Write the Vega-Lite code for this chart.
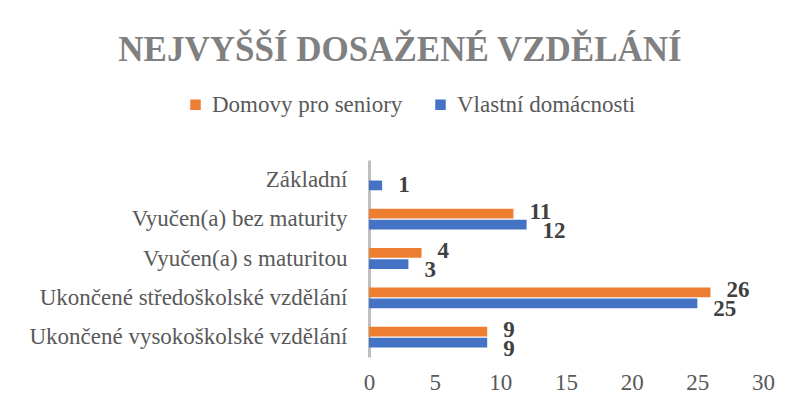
{
  "$schema": "https://vega.github.io/schema/vega-lite/v6.json",
  "width": 394,
  "height": 197,
  "autosize": {"type": "none"},
  "padding": {"left": 369, "top": 160, "right": 26, "bottom": 49},
  "background": "white",
  "title": {
    "text": "NEJVYŠŠÍ DOSAŽENÉ VZDĚLÁNÍ",
    "font": "Liberation Serif",
    "fontSize": 35,
    "fontWeight": "bold",
    "color": "#808080",
    "anchor": "middle",
    "dx": -166,
    "offset": 25
  },
  "config": {
    "view": {"stroke": null},
    "font": "Liberation Serif"
  },
  "data": {
    "values": [
      {"kategorie": "Základní", "skupina": "Vlastní domácnosti", "pocet": 1},
      {"kategorie": "Vyučen(a) bez maturity", "skupina": "Domovy pro seniory", "pocet": 11},
      {"kategorie": "Vyučen(a) bez maturity", "skupina": "Vlastní domácnosti", "pocet": 12},
      {"kategorie": "Vyučen(a) s maturitou", "skupina": "Domovy pro seniory", "pocet": 4},
      {"kategorie": "Vyučen(a) s maturitou", "skupina": "Vlastní domácnosti", "pocet": 3},
      {"kategorie": "Ukončené středoškolské vzdělání", "skupina": "Domovy pro seniory", "pocet": 26},
      {"kategorie": "Ukončené středoškolské vzdělání", "skupina": "Vlastní domácnosti", "pocet": 25},
      {"kategorie": "Ukončené vysokoškolské vzdělání", "skupina": "Domovy pro seniory", "pocet": 9},
      {"kategorie": "Ukončené vysokoškolské vzdělání", "skupina": "Vlastní domácnosti", "pocet": 9}
    ]
  },
  "encoding": {
    "y": {
      "field": "kategorie",
      "type": "nominal",
      "sort": ["Základní", "Vyučen(a) bez maturity", "Vyučen(a) s maturitou", "Ukončené středoškolské vzdělání", "Ukončené vysokoškolské vzdělání"],
      "scale": {"paddingInner": 0.47, "paddingOuter": 0.24},
      "axis": {
        "title": null,
        "ticks": false,
        "domainColor": "#bfbfbf",
        "domainWidth": 3,
        "labelFont": "Liberation Serif",
        "labelFontSize": 23,
        "labelColor": "#595959",
        "labelPadding": 22,
        "labelLimit": 400
      }
    },
    "yOffset": {
      "field": "skupina",
      "type": "nominal",
      "sort": ["Domovy pro seniory", "Vlastní domácnosti"],
      "scale": {"paddingInner": 0.12}
    },
    "x": {
      "field": "pocet",
      "type": "quantitative",
      "scale": {"domain": [0, 30]},
      "axis": {
        "title": null,
        "values": [0, 5, 10, 15, 20, 25, 30],
        "grid": false,
        "ticks": false,
        "domain": false,
        "labelFlush": false,
        "labelFont": "Liberation Serif",
        "labelFontSize": 23,
        "labelColor": "#595959",
        "labelPadding": 14
      }
    }
  },
  "layer": [
    {
      "mark": {"type": "bar"},
      "encoding": {
        "color": {
          "field": "skupina",
          "type": "nominal",
          "sort": ["Domovy pro seniory", "Vlastní domácnosti"],
          "scale": {"domain": ["Domovy pro seniory", "Vlastní domácnosti"], "range": ["#ED7D31", "#4472C4"]},
          "legend": {
            "title": null,
            "orient": "none",
            "legendX": -185,
            "legendY": -67,
            "direction": "horizontal",
            "symbolType": "square",
            "symbolSize": 110,
            "symbolStrokeWidth": 0,
            "labelFont": "Liberation Serif",
            "labelFontSize": 23,
            "labelColor": "#595959",
            "labelOffset": 5,
            "labelLimit": 400,
            "columnPadding": 26
          }
        }
      }
    },
    {
      "transform": [{"filter": "datum.skupina === 'Domovy pro seniory'"}],
      "mark": {"type": "text", "align": "left", "baseline": "middle", "dx": 16, "dy": -2, "fontWeight": "bold", "fontSize": 23, "font": "Liberation Serif", "color": "#404040"},
      "encoding": {
        "text": {"field": "pocet", "type": "quantitative"}
      }
    },
    {
      "transform": [{"filter": "datum.skupina === 'Vlastní domácnosti' && datum.kategorie !== 'Základní'"}],
      "mark": {"type": "text", "align": "left", "baseline": "middle", "dx": 16, "dy": 6, "fontWeight": "bold", "fontSize": 23, "font": "Liberation Serif", "color": "#404040"},
      "encoding": {
        "text": {"field": "pocet", "type": "quantitative"}
      }
    },
    {
      "transform": [{"filter": "datum.kategorie === 'Základní'"}],
      "mark": {"type": "text", "align": "left", "baseline": "middle", "dx": 16, "dy": 0, "fontWeight": "bold", "fontSize": 23, "font": "Liberation Serif", "color": "#404040"},
      "encoding": {
        "text": {"field": "pocet", "type": "quantitative"}
      }
    }
  ]
}
